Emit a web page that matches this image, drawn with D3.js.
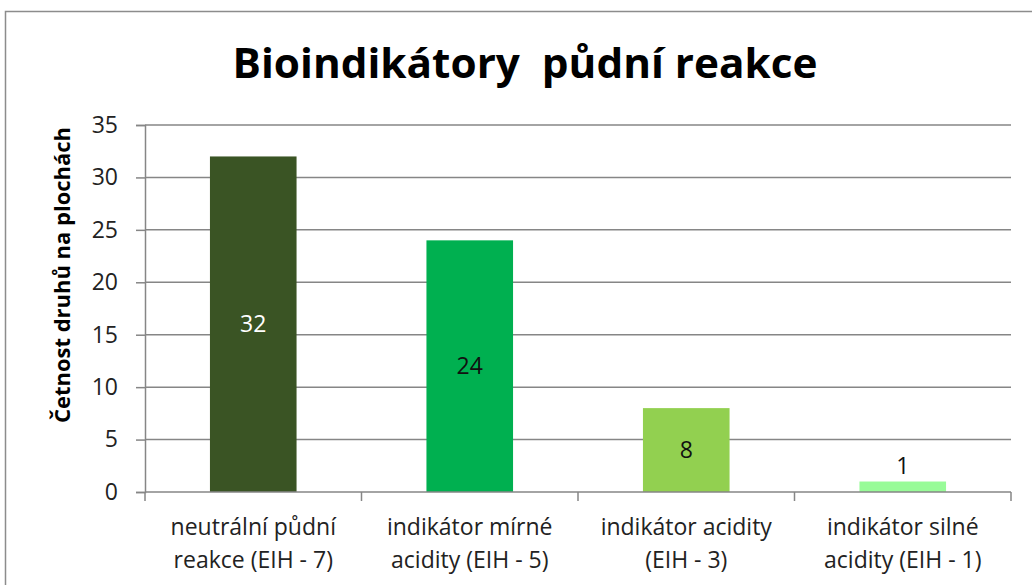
<!DOCTYPE html>
<html><head><meta charset="utf-8">
<script src="https://cdn.jsdelivr.net/npm/d3@7"></script>
<style>body{margin:0;background:#fff}svg{display:block}</style>
</head><body>
<svg id="c" width="1032" height="585"></svg>
<script>
const categories = [["neutrální půdní","reakce (EIH - 7)"],["indikátor mírné","acidity (EIH - 5)"],["indikátor acidity","(EIH - 3)"],["indikátor silné","acidity (EIH - 1)"]];
const values = [32, 24, 8, 1];
const colors = ["#3a5424", "#00b050", "#92d050", "#98fb98"];
const yTicks = [0,5,10,15,20,25,30,35];
const title = "Bioindikátory  půdní reakce";
const yTitle = "Četnost druhů na plochách";

const svg = d3.select("#c");
const font = "Open Sans, Liberation Sans, sans-serif";
// chart border
svg.append("rect").attr("x",5.5).attr("y",11.5).attr("width",1040).attr("height",600)
  .attr("fill","#fff").attr("stroke","#8c8c8c").attr("stroke-width",1.5);

const m = {l:145, r:1011, t:125, b:492};
const x = d3.scaleBand().domain(d3.range(values.length)).range([m.l,m.r]).paddingInner(0.6).paddingOuter(0.3);
const xb = d3.scaleBand().domain(d3.range(values.length)).range([m.l,m.r]);
const y = d3.scaleLinear().domain([0,35]).range([m.b,m.t]);

// gridlines + y ticks
const ya = svg.append("g").attr("transform",`translate(${m.l},0)`)
  .call(d3.axisLeft(y).tickValues(yTicks).tickSize(9).tickPadding(18).tickFormat(d3.format("d")));
ya.select(".domain").attr("stroke","#868686").attr("stroke-width",1.5);
ya.selectAll(".tick line").attr("stroke","#868686").attr("stroke-width",1.5);
ya.selectAll(".tick text").attr("font-family",font).attr("font-size",23).attr("fill","#222");
svg.append("g").selectAll("line").data(yTicks.filter(d=>d>0)).join("line")
  .attr("x1",m.l).attr("x2",m.r).attr("y1",d=>y(d)).attr("y2",d=>y(d))
  .attr("stroke","#868686").attr("stroke-width",1.5);

// bars
svg.append("g").selectAll("rect").data(values).join("rect")
  .attr("x",(d,i)=>x(i)).attr("width",x.bandwidth())
  .attr("y",d=>y(d)).attr("height",d=>y(0)-y(d))
  .attr("fill",(d,i)=>colors[i]);

// x axis
const xa = svg.append("g").attr("transform",`translate(0,${m.b})`);
xa.append("line").attr("x1",m.l).attr("x2",m.r).attr("stroke","#868686").attr("stroke-width",1.5);
xa.selectAll("line.t").data(d3.range(values.length+1)).join("line").attr("class","t")
  .attr("x1",i=>m.l+i*xb.step()).attr("x2",i=>m.l+i*xb.step()).attr("y1",0).attr("y2",9)
  .attr("stroke","#868686").attr("stroke-width",1.5);
const cl = svg.append("g").selectAll("text").data(categories).join("text")
  .attr("text-anchor","middle").attr("font-family",font).attr("font-size",23).attr("fill","#222")
  .attr("transform",(d,i)=>`translate(${xb(i)+xb.bandwidth()/2},0)`);
cl.selectAll("tspan").data(d=>d).join("tspan").attr("x",0).attr("y",(d,j)=>535+j*33).text(d=>d);

// data labels
svg.append("g").selectAll("text").data(values).join("text")
  .attr("text-anchor","middle").attr("font-family",font).attr("font-size",23)
  .attr("fill",(d,i)=>i===0?"#fff":"#111")
  .attr("x",(d,i)=>x(i)+x.bandwidth()/2)
  .attr("y",d=> d>=5 ? y(d/2)+8 : y(d)-8)
  .text(d=>d);

// title
svg.append("text").attr("x",525).attr("y",78).attr("text-anchor","middle")
  .style("white-space","pre").attr("xml:space","preserve")
  .attr("font-family",font).attr("font-weight","bold").attr("font-size",42)
  .attr("textLength",585).attr("lengthAdjust","spacingAndGlyphs").attr("fill","#000").text(title);

// y title
svg.append("text").attr("transform","translate(70,275) rotate(-90)").attr("text-anchor","middle")
  .attr("font-family",font).attr("font-weight","bold").attr("font-size",21)
  .attr("textLength",296).attr("lengthAdjust","spacingAndGlyphs").attr("fill","#000").text(yTitle);
</script>
</body></html>
